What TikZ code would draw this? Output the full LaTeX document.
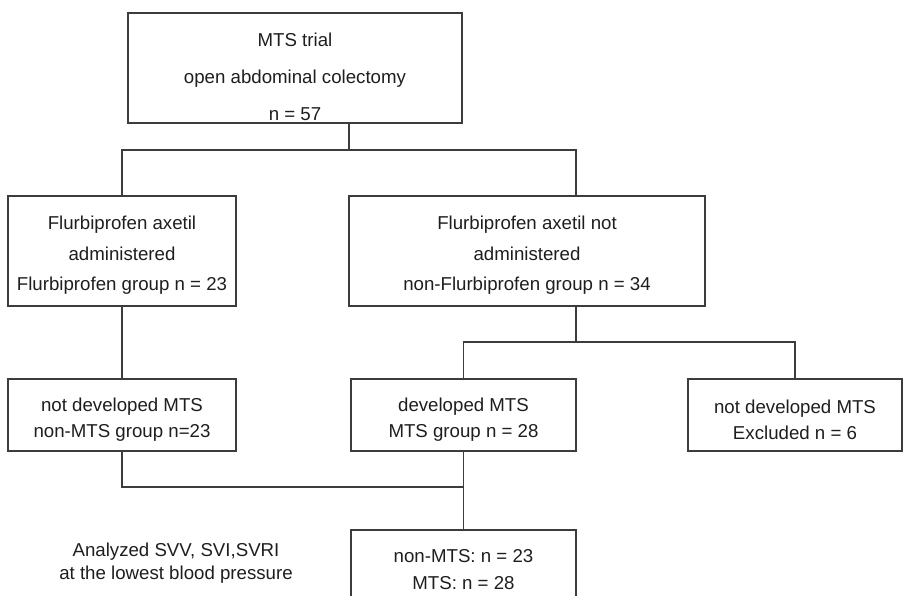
\documentclass[tikz,border=0pt]{standalone}
\usepackage{fontspec}
\setmainfont{Liberation Sans}
\usetikzlibrary{positioning}
\definecolor{linegray}{HTML}{3C3C3C}
\definecolor{textgray}{HTML}{1E1E1E}
% strut on the first line, pushes the lines a little down in the box
\newcommand\firstline[1]{\rule{0pt}{#1}}
\begin{document}
\begin{tikzpicture}[x=0.75pt,y=-0.75pt,
        box/.style={draw=linegray, line width=1pt, inner sep=0pt, align=center, text=textgray},
        wide/.style={minimum width=171pt},
        tall/.style={minimum height=82.5pt, font=\fontsize{14}{22.9}\selectfont},
        low/.style={minimum height=54pt, font=\fontsize{14}{19.5}\selectfont}]
        \useasboundingbox (0,0) rectangle (904,596);
            % top
            \node[box, minimum width=250.5pt, minimum height=82.5pt, font=\fontsize{14}{27.75}\selectfont] (t) at (295,68)
                {\firstline{23pt}MTS trial\\open abdominal colectomy\\n = 57};
            % second row
            \node[box, wide, tall] (fa) at (122,251)
                {\firstline{17pt}Flurbiprofen axetil\\administered\\Flurbiprofen group n = 23};
            \node[box, tall, minimum width=267pt] (nf) at (527,251)
                {\firstline{17pt}Flurbiprofen axetil not\\administered\\non-Flurbiprofen group n = 34};
            % third row
            \node[box, wide, low] (nd) at (122,415) {\firstline{17.7pt}not developed MTS\\non-MTS group n=23};
            \node[box, low, minimum width=168.75pt] (dm) at (463.5,415) {\firstline{17.7pt}developed MTS\\MTS group n = 28};
            \node[box, low, minimum width=160.5pt] (ex) at (795,415) {\firstline{17.7pt}not developed MTS\\Excluded n = 6};
            % analysis
            \node[box, minimum width=168.75pt, minimum height=60pt, font=\fontsize{14}{20.25}\selectfont] (an) at (463.5,570)
                {non-MTS: n = 23\\MTS: n = 28};
            \node[align=center, text=textgray, font=\fontsize{14}{17.25}\selectfont] (lb) at (176,563)
                {Analyzed SVV, SVI,SVRI\\at the lowest blood pressure};
            % lines
            \coordinate (j1) at (349,150);
            \coordinate (j2) at (576,342);
            \coordinate (j3) at (463.5,487);
            \begin{scope}[draw=linegray, line width=1pt]
                \draw (t.south -| j1) -- (j1);
                \draw (fa.north) |- (j1) -| (nf.north -| j2);
                \draw (nf.south -| j2) -- (j2);
                \draw (dm.north) |- (j2) -| (ex.north);
                \draw (fa.south) -- (nd.north);
                \draw (nd.south) |- (j3);
                \draw (dm.south) -- (an.north);
            \end{scope}
\end{tikzpicture}
\end{document}
